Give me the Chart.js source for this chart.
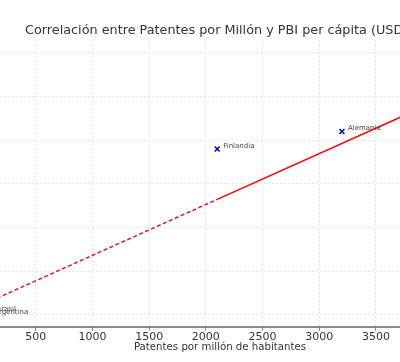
<!DOCTYPE html>
<html>
<head>
<meta charset="utf-8">
<script src="https://cdn.jsdelivr.net/npm/chart.js@4"></script>
<style>
  html, body { margin: 0; padding: 0; background: #fff; overflow: hidden; }
</style>
</head>
<body>
<canvas id="chart" width="400" height="362"></canvas>
<script>
// data
const countries = ['Argentina', 'Brasil', 'Finlandia', 'Alemania'];
const patents = [80, 100, 2100, 3200];
const gdpPerCapita = [10000, 10700, 48000, 52000];

// trend line, read at its ends
const trendDashedX = [0, 2100];
const trendDashedY = [11960, 36450];
const trendSolidX = [2100, 4000];
const trendSolidY = [36450, 58600];

const xTicks = [500, 1000, 1500, 2000, 2500, 3000, 3500];
const yTicks = [10000, 20000, 30000, 40000, 50000, 60000, 70000];

const chartTitle = 'Correlación entre Patentes por Millón y PBI per cápita (USD)';
const xTitle = 'Patentes por millón de habitantes';

const FONT = 'DejaVu Sans';

const toPoints = (xs, ys) => xs.map((x, i) => ({ x: x, y: ys[i] }));

const textPlugin = {
  id: 'texts',
  afterDraw(chart) {
    const ctx = chart.ctx;
    ctx.save();
    // point labels
    const meta = chart.getDatasetMeta(0);
    ctx.font = '7px "' + FONT + '"';
    ctx.fillStyle = '#444';
    ctx.textBaseline = 'middle';
    ctx.textAlign = 'left';
    meta.data.forEach((pt, i) => {
      ctx.fillText(countries[i], pt.x + 6, pt.y - 3);
    });
    // title
    ctx.font = '12.8px "' + FONT + '"';
    ctx.fillStyle = '#333';
    ctx.fillText(chartTitle, 25, 31);
    // x axis title
    ctx.font = '10.2px "' + FONT + '"';
    ctx.textAlign = 'center';
    ctx.fillText(xTitle, 220, 347);
    ctx.restore();
  }
};

new Chart(document.getElementById('chart').getContext('2d'), {
  type: 'scatter',
  data: {
    datasets: [
      {
        data: toPoints(patents, gdpPerCapita),
        pointStyle: 'crossRot',
        pointRadius: 3.5,
        borderColor: '#0000dd',
        backgroundColor: '#0000dd',
        borderWidth: 1.6
      },
      {
        data: toPoints(trendDashedX, trendDashedY),
        showLine: true,
        pointRadius: 0,
        borderColor: 'crimson',
        borderWidth: 1.5,
        borderDash: [4, 2.5]
      },
      {
        data: toPoints(trendSolidX, trendSolidY),
        showLine: true,
        pointRadius: 0,
        borderColor: 'red',
        borderWidth: 1.5
      }
    ]
  },
  options: {
    responsive: false,
    animation: false,
    layout: { autoPadding: false, padding: { top: 40, left: 0, right: 0, bottom: 18 } },
    plugins: {
      legend: { display: false },
      tooltip: { enabled: false }
    },
    scales: {
      x: {
        type: 'linear',
        min: 185,
        max: 3712,
        afterBuildTicks: axis => { axis.ticks = xTicks.map(v => ({ value: v })); },
        ticks: {
          color: '#333',
          font: { family: FONT, size: 11 },
          padding: 0,
          maxRotation: 0,
          callback: v => String(v)
        },
        grid: {
          color: '#dedede',
          lineWidth: 0.8,
          tickColor: '#888',
          tickLength: 4,
          tickWidth: 1,
          tickBorderDash: []
        },
        border: { display: true, color: '#888', width: 2, dash: [2, 2] }
      },
      y: {
        type: 'linear',
        min: 7254,
        max: 72975,
        afterBuildTicks: axis => { axis.ticks = yTicks.map(v => ({ value: v })); },
        ticks: { display: false },
        grid: {
          color: '#dedede',
          lineWidth: 0.8,
          drawTicks: false
        },
        border: { display: false, dash: [2, 2] }
      }
    }
  },
  plugins: [textPlugin]
});
</script>
</body>
</html>
